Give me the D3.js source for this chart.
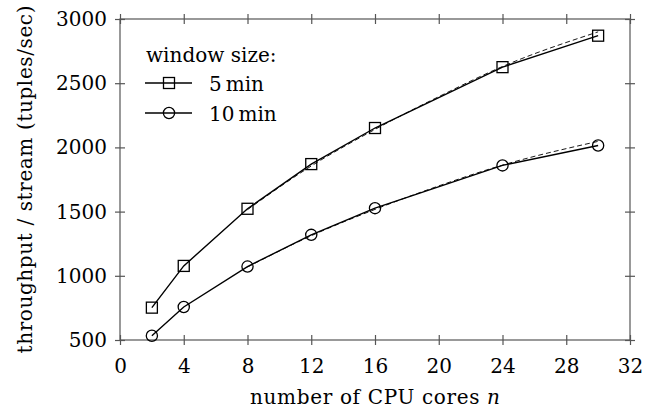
<!DOCTYPE html>
<html><head><meta charset="utf-8">
<script src="https://cdn.jsdelivr.net/npm/d3@7"></script>
<style>
body{margin:0;background:#fff;}
svg text{font-family:"DejaVu Serif",serif !important;fill:#000;}
</style></head>
<body><svg id="c" width="656" height="408" style="font-family:'DejaVu Serif',serif"></svg>
<script>
const cores = [2, 4, 8, 12, 16, 24, 30];
const win5 = [752, 1077, 1522, 1870, 2151, 2625, 2870];
const win10 = [533, 757, 1072, 1319, 1527, 1860, 2015];
const fitCores = [8, 12, 16, 20, 24, 30];
const fit5 = [1515, 1855, 2140, 2395, 2630, 2900];
const fit10 = [1068, 1312, 1517, 1700, 1862, 2047];
const xTicks = [0, 4, 8, 12, 16, 20, 24, 28, 32];
const yTicks = [500, 1000, 1500, 2000, 2500, 3000];
const seriesNames = ["5\u2009min", "10\u2009min"];
const legendTitle = "window size:";

const svg = d3.select("#c");
const L = 120, R = 630, T = 19, B = 340;
const x = d3.scaleLinear().domain([0, 32]).range([L, R]);
const y = d3.scaleLinear().domain([500, 3000]).range([B, T]);
const fs = 20;
const frameCol = "#555";

svg.append("rect").attr("x", L).attr("y", T).attr("width", R - L).attr("height", B - T)
  .attr("fill", "none").attr("stroke", frameCol).attr("stroke-width", 1.2);

const tk = 5;
function styleAxis(g){ g.attr("font-family", null); g.select(".domain").remove(); g.selectAll("line").attr("stroke", frameCol).attr("stroke-width",1.2); }
svg.append("g").attr("transform", `translate(0,${B})`)
  .call(d3.axisBottom(x).tickValues(xTicks).tickSize(tk).tickFormat(d3.format("d")))
  .call(styleAxis)
  .call(g => g.selectAll("line").attr("y1", -tk))
  .call(g => g.selectAll("text").attr("font-size", fs).attr("y", 33).attr("dy", 0));
svg.append("g").attr("transform", `translate(0,${T})`)
  .call(d3.axisTop(x).tickValues(xTicks).tickSize(tk).tickFormat(""))
  .call(styleAxis).call(g => g.selectAll("line").attr("y1", tk));
svg.append("g").attr("transform", `translate(${L},0)`)
  .call(d3.axisLeft(y).tickValues(yTicks).tickSize(tk).tickPadding(8).tickFormat(d3.format("d")))
  .call(styleAxis)
  .call(g => g.selectAll("line").attr("x1", tk))
  .call(g => g.selectAll("text").attr("font-size", fs));
svg.append("g").attr("transform", `translate(${R},0)`)
  .call(d3.axisRight(y).tickValues(yTicks).tickSize(tk).tickFormat(""))
  .call(styleAxis).call(g => g.selectAll("line").attr("x1", -tk));

svg.append("text").attr("x", (L + R) / 2).attr("y", 404).attr("text-anchor", "middle")
  .attr("font-size", fs).attr("textLength", 250).attr("lengthAdjust", "spacing")
  .html('number of CPU cores <tspan font-style="italic">n</tspan>');
svg.append("text").attr("transform", `translate(32,${(T + B) / 2}) rotate(-90)`).attr("text-anchor", "middle")
  .attr("font-size", fs).attr("textLength", 348).attr("lengthAdjust", "spacing")
  .text("throughput / stream (tuples/sec)");

const fitLine = d3.line().x(d => x(d[0])).y(d => y(d[1])).curve(d3.curveMonotoneX);
[fit5, fit10].forEach(f => {
  svg.append("path").datum(fitCores.map((c, i) => [c, f[i]])).attr("d", fitLine)
    .attr("fill", "none").attr("stroke", "#000").attr("stroke-width", 0.9).attr("stroke-dasharray", "5,3");
});

const line = d3.line().x(d => x(d[0])).y(d => y(d[1]));
const series = [win5, win10];
function marker(g, kind, cx, cy){
  if (kind === 0) g.append("rect").attr("x", cx - 5.5).attr("y", cy - 5.5).attr("width", 11).attr("height", 11)
    .attr("fill", "none").attr("stroke", "#000").attr("stroke-width", 1.3);
  else g.append("circle").attr("cx", cx).attr("cy", cy).attr("r", 5.6)
    .attr("fill", "none").attr("stroke", "#000").attr("stroke-width", 1.3);
}
series.forEach((s, k) => {
  const pts = cores.map((c, i) => [c, s[i]]);
  svg.append("path").datum(pts).attr("d", line).attr("fill", "none").attr("stroke", "#000").attr("stroke-width", 1.4);
  const g = svg.append("g");
  pts.forEach(p => marker(g, k, x(p[0]), y(p[1])));
});

svg.append("text").attr("x", 146).attr("y", 62).attr("font-size", fs).text(legendTitle);
seriesNames.forEach((n, k) => {
  const ly = 83 + k * 30;
  svg.append("line").attr("x1", 145).attr("x2", 192).attr("y1", ly).attr("y2", ly)
    .attr("stroke", "#000").attr("stroke-width", 1.4);
  marker(svg, k, 169, ly);
  svg.append("text").attr("x", 209).attr("y", ly + 8).attr("font-size", fs).text(n);
});
</script></body></html>
